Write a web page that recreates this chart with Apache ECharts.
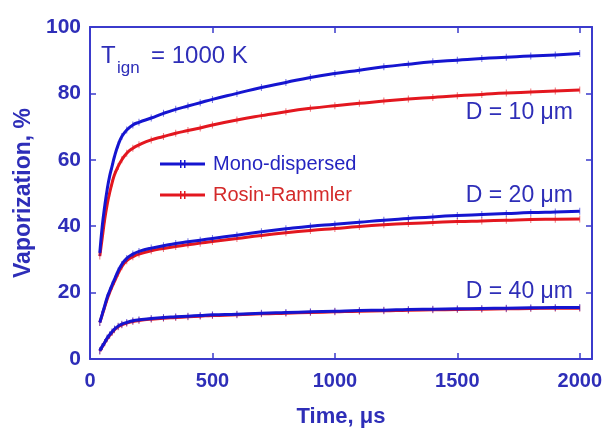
<!DOCTYPE html>
<html>
<head>
<meta charset="utf-8">
<script src="https://cdn.jsdelivr.net/npm/echarts@6/dist/echarts.min.js"></script>
<style>html,body{margin:0;padding:0;background:#fff}#c{width:607px;height:433px}</style>
</head>
<body>
<div id="c"></div>
<script>
var times = [40,50,60,70,80,90,100,115,130,150,175,200,250,300,350,400,450,500,600,700,800,900,1000,1100,1200,1300,1400,1500,1600,1700,1800,1900,2000];
var mono10 = [32,40,46,51,55,58,61,64.5,67,69,70.5,71.3,72.6,74,75.2,76.2,77.2,78.2,80,81.8,83.3,84.8,86,87,88,88.8,89.5,90,90.5,90.9,91.3,91.6,92];
var rosin10 = [31,36.5,42,46.5,50,53,55.5,58,60,62,63.5,64.5,66,67,68,68.8,69.6,70.5,72,73.3,74.5,75.5,76.3,77,77.7,78.3,78.8,79.3,79.7,80.1,80.4,80.7,81];
var mono20 = [11,13.5,16,18.5,20.5,22.3,24,26.5,28.5,30.3,31.6,32.4,33.4,34.1,34.8,35.3,35.8,36.3,37.3,38.3,39.2,40,40.6,41.2,41.8,42.3,42.8,43.2,43.5,43.8,44.1,44.3,44.5];
var rosin20 = [11,13.3,15.7,18,20,21.8,23.4,25.8,27.8,29.6,30.8,31.6,32.6,33.3,33.9,34.4,34.9,35.4,36.3,37.2,38,38.7,39.3,39.9,40.4,40.8,41.1,41.4,41.6,41.8,42,42.1,42.2];
var mono40 = [2.5,3.8,5,6.3,7.3,8.2,9,9.9,10.5,11,11.5,11.8,12.2,12.5,12.7,12.9,13.1,13.3,13.5,13.8,14,14.2,14.4,14.6,14.7,14.9,15,15.1,15.2,15.3,15.4,15.5,15.5];
var rosin40 = [2.4,3.7,4.9,6.1,7.1,8,8.8,9.7,10.3,10.8,11.3,11.6,12,12.3,12.5,12.7,12.9,13.1,13.3,13.6,13.8,14,14.2,14.4,14.5,14.7,14.8,14.9,15,15.1,15.2,15.3,15.3];
var xTicks = [0,500,1000,1500,2000];
var yTicks = [0,20,40,60,80,100];
var sizeLabels = ['D = 10 \u03bcm','D = 20 \u03bcm','D = 40 \u03bcm'];

var BLUE = '#1515d0', RED = '#e3171f', AX = '#3b3bcc', TXT = '#2e2eb8';
function pairs(v){ return times.map(function(t,i){ return [t, v[i]]; }); }
function ser(name, v, color, z){
  return {name:name, type:'line', data:pairs(v), smooth:true, z:z,
    symbol:'rect', symbolSize:[1,7], showSymbol:true,
    lineStyle:{color:color,width:3}, itemStyle:{color:color, opacity:0.6}};
}
var chart = echarts.init(document.getElementById('c'));
function axisCommon(){ return {min:0, axisLine:{show:true,onZero:false,lineStyle:{color:AX,width:2}}, axisTick:{inside:true,length:6,lineStyle:{color:AX,width:1.5}}, splitLine:{show:false}}; }
var F = 'Liberation Sans';
chart.setOption({
  animation:false,
  grid:{left:90,right:15,top:27,bottom:71},
  xAxis:[
    Object.assign(axisCommon(), {type:'value', max:2050, interval:500, position:'bottom',
      name:'Time, \u03bcs', nameLocation:'middle', nameGap:47,
      nameTextStyle:{color:TXT,fontFamily:F,fontWeight:'bold',fontSize:22},
      axisLabel:{color:TXT,fontFamily:F,fontWeight:'bold',fontSize:20,margin:12,
        formatter:function(v){ return xTicks.indexOf(v)>=0 ? String(v) : ''; }}}),
    Object.assign(axisCommon(), {type:'value', max:2050, interval:500, position:'top', axisLabel:{show:false}})
  ],
  yAxis:[
    Object.assign(axisCommon(), {type:'value', max:100, interval:20, position:'left',
      name:'Vaporization, %', nameLocation:'middle', nameGap:54, nameRotate:90,
      nameTextStyle:{color:TXT,fontFamily:F,fontWeight:'bold',fontSize:23},
      axisLabel:{color:TXT,fontFamily:F,fontWeight:'bold',fontSize:21,margin:9,
        formatter:function(v){ return yTicks.indexOf(v)>=0 ? String(v) : ''; }}}),
    Object.assign(axisCommon(), {type:'value', max:100, interval:20, position:'right', axisLabel:{show:false}})
  ],
  legend:{left:155, top:149, orient:'vertical', itemGap:11, itemWidth:45, itemHeight:10,
    icon:'path://M0,3.5h45v3h-45z M20,1h1.5v8h-1.5z M24,1h1.5v8h-1.5z',
    itemStyle:{opacity:1},
    textStyle:{fontFamily:F,fontSize:20,lineHeight:20,padding:[0,0,0,3]},
    data:[{name:'Mono-dispersed', itemStyle:{color:BLUE,opacity:1}, textStyle:{color:'#2424c0'}},{name:'Rosin-Rammler', itemStyle:{color:RED,opacity:1}, textStyle:{color:'#d42a2a'}}]},
  series:[
    ser('Rosin-Rammler', rosin10, RED, 2),
    ser('Rosin-Rammler', rosin20, RED, 2),
    ser('Rosin-Rammler', rosin40, RED, 2),
    ser('Mono-dispersed', mono10, BLUE, 3),
    ser('Mono-dispersed', mono20, BLUE, 3),
    ser('Mono-dispersed', mono40, BLUE, 3)
  ],
  graphic:[
    {type:'text', left:101, top:44, style:{text:'T', fill:TXT, font:'24px "Liberation Sans"'}},
    {type:'text', left:117, top:60, style:{text:'ign', fill:TXT, font:'17px "Liberation Sans"'}},
    {type:'text', left:151, top:44, style:{text:'= 1000 K', fill:TXT, font:'24px "Liberation Sans"'}},
    {type:'text', right:34, top:101, style:{text:sizeLabels[0], fill:TXT, font:'23px "Liberation Sans"'}},
    {type:'text', right:34, top:184, style:{text:sizeLabels[1], fill:TXT, font:'23px "Liberation Sans"'}},
    {type:'text', right:34, top:280, style:{text:sizeLabels[2], fill:TXT, font:'23px "Liberation Sans"'}}
  ]
});
</script>
</body>
</html>
